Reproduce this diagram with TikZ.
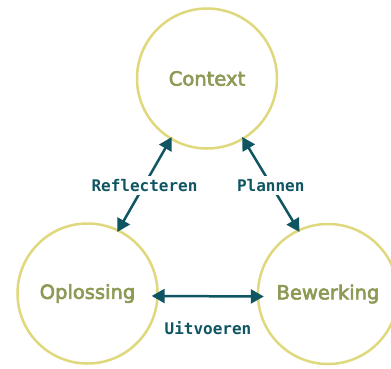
\documentclass[tikz,border=0pt]{standalone}
\usepackage{fontspec}
\setmainfont{DejaVu Sans}
\newfontfamily\phfont[FakeBold=3]{DejaVu Sans}
\newfontfamily\labfont{DejaVu Sans Mono}
\usetikzlibrary{arrows.meta}
\definecolor{ring}{HTML}{E0D87C}
\definecolor{olive}{HTML}{8C9A55}
\definecolor{teal}{HTML}{0F5662}
\tikzset{
  phase/.style={circle, draw=ring, line width=2.5pt, minimum size=140pt, inner sep=0pt,
    text=olive, font=\phfont\fontsize{19.5}{22}\selectfont},
  link/.style={draw=teal, line width=2.5pt, {Triangle[length=13pt,width=14pt]}-{Triangle[length=13pt,width=14pt]}},
  lab/.style={fill=white, text=teal, inner sep=3pt, font=\labfont\bfseries\fontsize{16}{18}\selectfont}
}
\begin{document}
\begin{tikzpicture}[x=1pt,y=-1pt]
\useasboundingbox (0,0) rectangle (391,368);
\fill[white] (0,0) rectangle (391,368);
\node[phase] (ctx) at (207,78.5) {\raisebox{-3pt}{Context}};
\node[phase] (opl) at (87.5,293.5) {\raisebox{-2pt}{Oplossing}};
\node[phase] (bew) at (328,294) {\raisebox{-2pt}{Bewerking}};
\draw[link, shorten <=-3pt, shorten >=-3pt] (ctx.239) -- node[lab, yshift=-1pt] (rl) {Reflecteren} (opl.64);
\draw[link, shorten <=-3pt, shorten >=-3pt] (ctx.301) -- node[lab, yshift=-1pt] (pl) {Plannen} (bew.115);
\draw[link, shorten <=-7pt, shorten >=-7pt] (opl.-2) -- (bew.182);
\node[lab, fill=none] (uv) at (208,328) {Uitvoeren};
\end{tikzpicture}
\end{document}
